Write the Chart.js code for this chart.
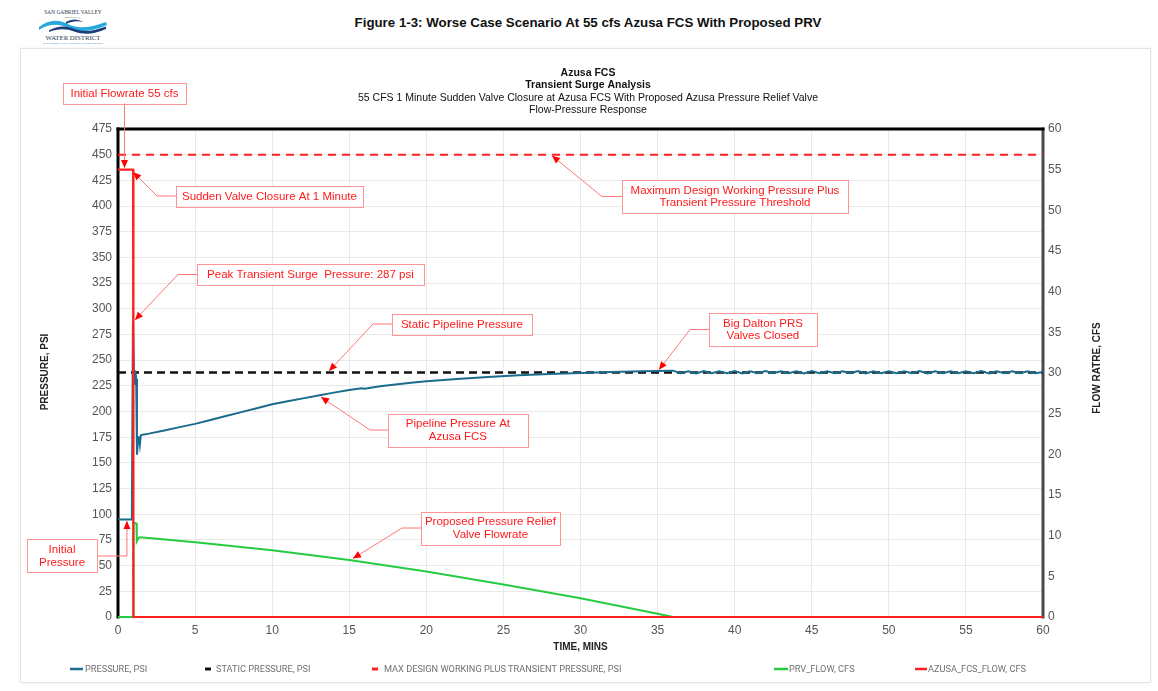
<!DOCTYPE html>
<html>
<head>
<meta charset="utf-8">
<title>Figure 1-3: Worse Case Scenario At 55 cfs Azusa FCS With Proposed PRV</title>
<script src="https://cdn.jsdelivr.net/npm/chart.js@4.4.1/dist/chart.umd.min.js"></script>
<style>
  html, body { margin: 0; padding: 0; background: #fff; }
  #page { position: relative; width: 1158px; height: 691px; overflow: hidden;
          font-family: "Liberation Sans", Arial, sans-serif; }
  #frame { position: absolute; left: 20px; top: 48px; width: 1129px; height: 633px;
           border: 1px solid #e4e4e4; box-shadow: 0 0 3px rgba(0,0,0,0.07); background: #fff; }
  #heading { position: absolute; left: 9px; top: 15px; width: 1158px; text-align: center;
             font-weight: bold; font-size: 13.3px; color: #111; }
  #logo { position: absolute; left: 37px; top: 8px; }
  #wrap { position: absolute; left: 0; top: 0; width: 1158px; height: 691px; }
</style>
</head>
<body>
<div id="page">
  <div id="frame"></div>
  <svg id="logo" width="72" height="36" viewBox="0 0 72 36">
    <text x="36" y="5.5" font-family="Liberation Serif, serif" font-size="5.4" text-anchor="middle" fill="#2d3a4a">SAN GABRIEL VALLEY</text>
    <text x="36" y="10" font-family="Liberation Serif, serif" font-size="2.8" text-anchor="middle" fill="#2d3a4a">MUNICIPAL</text>
    <path d="M2 19 C 12 11, 22 11, 32 16.5 C 41 21, 53 20, 69 14 L 70 17 C 54 24, 41 25, 31 20 C 22 15.5, 12 15.5, 2 22 Z" fill="#27a9dc"/>
    <path d="M12 22.5 C 21 17, 30 18, 38 21 C 47 24.5, 57 23, 69 18.5 L 69 21 C 57 26.5, 47 27, 37 23.5 C 29 20.5, 21 20.5, 12 24 Z" fill="#1c3f7a"/>
    <path d="M29 14 C 34 10.5, 41 10.5, 46 14 C 41 12.8, 35 13, 29 16 Z" fill="#1c3f7a"/>
    <text x="36" y="31.5" font-family="Liberation Serif, serif" font-size="6.8" text-anchor="middle" fill="#2d3a4a">WATER DISTRICT</text>
    <text x="36" y="35.5" font-family="Liberation Sans, sans-serif" font-size="2.4" text-anchor="middle" fill="#3b8fd0">SAN GABRIEL VALLEY MUNICIPAL WATER DISTRICT</text>
  </svg>
  <div id="heading">Figure 1-3: Worse Case Scenario At 55 cfs Azusa FCS With Proposed PRV</div>
  <div id="wrap"><canvas id="chart"></canvas></div>
</div>

<script>
// ════════════════════════════════════════════════════════════════
//  Azusa FCS transient surge — flow / pressure response
//  Values (time in minutes).
// ════════════════════════════════════════════════════════════════

const seriesNames = [
  'PRESSURE, PSI',
  'STATIC PRESSURE, PSI',
  'MAX DESIGN WORKING PLUS TRANSIENT PRESSURE, PSI',
  'PRV_FLOW, CFS',
  'AZUSA_FCS_FLOW, CFS'
];

const timeTicks     = [0, 5, 10, 15, 20, 25, 30, 35, 40, 45, 50, 55, 60];
const pressureTicks = [0, 25, 50, 75, 100, 125, 150, 175, 200, 225, 250, 275, 300,
                       325, 350, 375, 400, 425, 450, 475];
const flowTicks     = [0, 5, 10, 15, 20, 25, 30, 35, 40, 45, 50, 55, 60];

// pipeline pressure at Azusa FCS
const pressureTime = [
  0, 0.85, 0.9, 0.97, 1.03, 1.08, 1.12, 1.18, 1.23, 1.3, 1.36, 1.42, 1.48, 1.6,
  2, 3, 4, 5, 6, 7, 8, 9, 10, 11, 12, 13, 14, 15,
  15.8, 16, 17, 18, 19, 20,
  22, 24, 26, 28, 30, 32, 34, 35, 36,
  36.5, 37, 37.5, 38, 38.5, 39, 39.5, 40, 40.5, 41, 41.5, 42,
  42.5, 43, 43.5, 44, 44.5, 45, 45.5, 46, 46.5, 47, 47.5, 48,
  48.5, 49, 49.5, 50, 50.5, 51, 51.5, 52, 52.5, 53, 53.5, 54,
  54.5, 55, 55.5, 56, 56.5, 57, 57.5, 58, 58.5, 59, 59.5, 60
];
const pressurePsi = [
  95, 95, 100, 287, 240, 226, 240, 232, 158, 172, 176, 168, 177, 177.5,
  178.5, 181.5, 184.8, 188, 191.8, 195.6, 199.4, 203.2, 207, 209.9, 212.8, 215.6, 218.4, 221,
  222.6, 222.2, 224.6, 226.3, 228, 229.5,
  231.6, 233.6, 235.3, 236.6, 237.5, 238.4, 239.2, 239.5, 239.8,
  237.3, 239.2, 237.1, 239.3, 237.2, 239.1, 237.3, 239.3, 237.1, 239.2, 237.2, 239.3,
  237.2, 239.1, 237.3, 239.2, 237.1, 239.3, 237.2, 239.2, 237.3, 239.1, 237.2, 239.3,
  237.1, 239.2, 237.3, 239.2, 237.2, 239.1, 237.2, 239.3, 237.1, 239.2, 237.3, 239.2,
  237.2, 239.1, 237.2, 239.3, 237.1, 239.2, 237.3, 239.2, 237.2, 239.1, 237.3, 238.4
];

// horizontal reference lines
const lineTime      = [0, 60];
const staticPsi     = [238, 238];
const maxDesignPsi  = [450, 450];

// proposed pressure relief valve flow
const prvTime = [0, 0.99, 1.0, 1.2, 1.22, 1.3, 1.4, 2, 5, 10, 15, 20, 25, 30, 35, 36, 60];
const prvCfs  = [0, 0, 11.6, 11.5, 9.3, 9.6, 9.8, 9.7, 9.2, 8.2, 7.0, 5.6, 4.0, 2.3, 0.4, 0, 0];

// Azusa FCS flow, valve closes at 1 minute
const azusaTime = [0, 0.98, 1.0, 60];
const azusaCfs  = [55, 55, 0, 0];

// ── callouts (anchor point of the box, then leader path to the arrow tip; x = mins, y = psi)
const callouts = [
  { text: ['Initial Flowrate 55 cfs'], anchor: 'bottom', at: [0.42, 500], w: 123, path: [[0.42, 437]] },
  { text: ['Sudden Valve Closure At 1 Minute'], anchor: 'left', at: [3.76, 409.8], w: 187, path: [[2.53, 409.8], [0.99, 433]] },
  { text: ['Peak Transient Surge  Pressure: 287 psi'], anchor: 'left', at: [5.12, 333.4], w: 227, path: [[3.89, 333.4], [1.10, 289.1]] },
  { text: ['Static Pipeline Pressure'], anchor: 'left', at: [17.77, 285.2], w: 140, path: [[16.54, 285.2], [13.69, 239.4]] },
  { text: ['Pipeline Pressure At', 'Azusa FCS'], anchor: 'left', at: [17.51, 182], w: 140, path: [[16.35, 182], [13.17, 214.1]] },
  { text: ['Maximum Design Working Pressure Plus', 'Transient Pressure Threshold'], anchor: 'left', at: [32.69, 409.3], w: 226, path: [[31.39, 409.3], [28.15, 449]] },
  { text: ['Big Dalton PRS', 'Valves Closed'], anchor: 'left', at: [38.33, 279.8], w: 108, path: [[37.10, 279.8], [35.09, 240.6]] },
  { text: ['Proposed Pressure Relief', 'Valve Flowrate'], anchor: 'left', at: [19.65, 86.6], w: 139, path: [[18.42, 86.6], [15.24, 56.9]] },
  { text: ['Initial', 'Pressure'], anchor: 'right', at: [-1.36, 59.4], w: 70, path: [[0.58, 59.4], [0.58, 93.4]] }
];

const COLORS = {
  pressure: '#1b6c8c',
  static:   '#111111',
  maxLine:  '#ff1f1f',
  prv:      '#25cc3f',
  azusa:    '#ff1f1f',
  callout:  '#ff1a1a',
  leader:   '#ff7777',
  box:      '#ff9494',
  tick:     '#555555',
  grid:     '#e9e9e9'
};
const FONT = '"Liberation Sans", Arial, sans-serif';

function zip(xs, ys) {
  return xs.map((x, i) => ({ x: x, y: ys[i] }));
}

function setTicks(values) {
  return scale => { scale.ticks = values.map(v => ({ value: v })); };
}

function segment(ctx, x1, y1, x2, y2, color, width) {
  ctx.strokeStyle = color;
  ctx.lineWidth = width;
  ctx.beginPath();
  ctx.moveTo(x1, y1);
  ctx.lineTo(x2, y2);
  ctx.stroke();
}

function text(ctx, str, x, y, font, color, align) {
  ctx.font = font;
  ctx.fillStyle = color;
  ctx.textAlign = align || 'center';
  ctx.textBaseline = 'middle';
  ctx.fillText(str, x, y);
}

function drawCallout(ctx, c, xs, ys) {
  const lh = 12.5, padY = 4;
  const w = c.w, h = c.text.length * lh + padY * 2;
  const ax = xs.getPixelForValue(c.at[0]), ay = ys.getPixelForValue(c.at[1]);
  let bx, by;
  if (c.anchor === 'left')       { bx = ax;         by = ay - h / 2; }
  else if (c.anchor === 'right') { bx = ax - w;     by = ay - h / 2; }
  else                           { bx = ax - w / 2; by = ay - h; }

  const pts = [[ax, ay]].concat(c.path.map(p => [xs.getPixelForValue(p[0]), ys.getPixelForValue(p[1])]));
  ctx.strokeStyle = COLORS.leader;
  ctx.lineWidth = 1;
  ctx.beginPath();
  ctx.moveTo(pts[0][0], pts[0][1]);
  pts.slice(1).forEach(p => ctx.lineTo(p[0], p[1]));
  ctx.stroke();

  // arrow head along the last segment
  const tip = pts[pts.length - 1], prev = pts[pts.length - 2];
  const a = Math.atan2(tip[1] - prev[1], tip[0] - prev[0]);
  const len = 8, half = 3.5;
  ctx.fillStyle = '#ff0000';
  ctx.beginPath();
  ctx.moveTo(tip[0], tip[1]);
  ctx.lineTo(tip[0] - len * Math.cos(a) + half * Math.sin(a), tip[1] - len * Math.sin(a) - half * Math.cos(a));
  ctx.lineTo(tip[0] - len * Math.cos(a) - half * Math.sin(a), tip[1] - len * Math.sin(a) + half * Math.cos(a));
  ctx.closePath();
  ctx.fill();

  ctx.fillStyle = '#fff';
  ctx.fillRect(bx, by, w, h);
  ctx.strokeStyle = COLORS.box;
  ctx.strokeRect(Math.round(bx) + 0.5, Math.round(by) + 0.5, w, Math.round(h));
  c.text.forEach((t, i) => text(ctx, t, bx + w / 2, by + padY + lh * (i + 0.5) + 0.5, '11.5px ' + FONT, COLORS.callout));
}

// legend sample geometry: line start, line end, text start
const legendLayout = [
  { x1: 70,  x2: 83,  tx: 85,  color: COLORS.pressure, width: 2.5 },
  { x1: 205, x2: 211, tx: 216, color: COLORS.static,   width: 3 },
  { x1: 372, x2: 378, tx: 384, color: COLORS.maxLine,  width: 3 },
  { x1: 774, x2: 788, tx: 789, color: COLORS.prv,      width: 2.5 },
  { x1: 915, x2: 927, tx: 928, color: COLORS.azusa,    width: 2.5 }
];

const figurePlugin = {
  id: 'figure',
  beforeDatasetsDraw(chart) {
    const { ctx, chartArea: a } = chart;
    ctx.save();
    ctx.lineCap = 'square';
    segment(ctx, a.left, a.bottom, a.right, a.bottom, '#777', 1.5);
    segment(ctx, a.right, a.top, a.right, a.bottom, '#4a4a4a', 3);
    segment(ctx, a.left, a.top, a.right, a.top, '#000', 3);
    segment(ctx, a.left, a.bottom, a.left, a.top, '#000', 3);
    ctx.restore();
  },
  afterDraw(chart) {
    const { ctx, chartArea: a, scales } = chart;
    ctx.save();

    // chart titles
    const cx = 588;
    text(ctx, 'Azusa FCS', cx, 73, 'bold 10.5px ' + FONT, '#111');
    text(ctx, 'Transient Surge Analysis', cx, 85.5, 'bold 10.5px ' + FONT, '#111');
    text(ctx, '55 CFS 1 Minute Sudden Valve Closure at Azusa FCS With Proposed Azusa Pressure Relief Valve', cx, 98, '10.5px ' + FONT, '#111');
    text(ctx, 'Flow-Pressure Response', cx, 110.5, '10.5px ' + FONT, '#111');

    // axis titles
    const midY = (a.top + a.bottom) / 2;
    ctx.save();
    ctx.translate(45, midY - 1);
    ctx.rotate(-Math.PI / 2);
    text(ctx, 'PRESSURE, PSI', 0, 0, 'bold 10px ' + FONT, '#222');
    ctx.restore();
    ctx.save();
    ctx.translate(1097, midY - 5);
    ctx.rotate(-Math.PI / 2);
    text(ctx, 'FLOW RATRE, CFS', 0, 0, 'bold 10px ' + FONT, '#222');
    ctx.restore();
    text(ctx, 'TIME, MINS', (a.left + a.right) / 2, 647, 'bold 10px ' + FONT, '#222');

    // legend
    legendLayout.forEach((l, i) => {
      ctx.lineCap = 'butt';
      segment(ctx, l.x1, 669, l.x2, 669, l.color, l.width);
      text(ctx, seriesNames[i], l.tx, 669.5, '9.2px Roboto, ' + FONT, '#707070', 'left');
    });

    // callouts
    callouts.forEach(c => drawCallout(ctx, c, scales.x, scales.y));
    ctx.restore();
  }
};

const tickFont = { family: FONT, size: 12 };

new Chart(document.getElementById('chart'), {
  type: 'line',
  data: {
    datasets: [
      { label: seriesNames[4], data: zip(azusaTime, azusaCfs), yAxisID: 'y2',
        borderColor: COLORS.azusa, borderWidth: 2.2, clip: 4 },
      { label: seriesNames[3], data: zip(prvTime, prvCfs), yAxisID: 'y2',
        borderColor: COLORS.prv, borderWidth: 2, clip: 4 },
      { label: seriesNames[0], data: zip(pressureTime, pressurePsi), yAxisID: 'y',
        borderColor: COLORS.pressure, borderWidth: 2, clip: 4 },
      { label: seriesNames[1], data: zip(lineTime, staticPsi), yAxisID: 'y',
        borderColor: COLORS.static, borderWidth: 2.5, borderDash: [8, 5] },
      { label: seriesNames[2], data: zip(lineTime, maxDesignPsi), yAxisID: 'y',
        borderColor: COLORS.maxLine, borderWidth: 2, borderDash: [8, 6] }
    ]
  },
  options: {
    responsive: true,
    maintainAspectRatio: false,
    animation: false,
    events: [],
    elements: {
      point: { radius: 0 },
      line: { tension: 0, fill: false }
    },
    layout: { padding: { top: 129, left: 20, right: 8, bottom: 34 } },
    plugins: {
      legend: { display: false },
      title: { display: false },
      tooltip: { enabled: false }
    },
    scales: {
      x: {
        type: 'linear', min: 0, max: 60,
        afterBuildTicks: setTicks(timeTicks),
        afterFit: s => { s.height = 40; },
        grid: { color: COLORS.grid, drawTicks: false },
        border: { display: false },
        ticks: { color: COLORS.tick, font: tickFont, padding: 6, maxRotation: 0 }
      },
      y: {
        position: 'left', min: 0, max: 475,
        afterBuildTicks: setTicks(pressureTicks),
        afterFit: s => { s.width = 98; },
        grid: { color: COLORS.grid, drawTicks: false },
        border: { display: false },
        ticks: { color: COLORS.tick, font: tickFont, padding: 6 }
      },
      y2: {
        position: 'right', min: 0, max: 60,
        afterBuildTicks: setTicks(flowTicks),
        afterFit: s => { s.width = 107; },
        grid: { display: false, drawTicks: false },
        border: { display: false },
        ticks: { color: COLORS.tick, font: tickFont, padding: 5 }
      }
    }
  },
  plugins: [figurePlugin]
});
</script>
</body>
</html>
